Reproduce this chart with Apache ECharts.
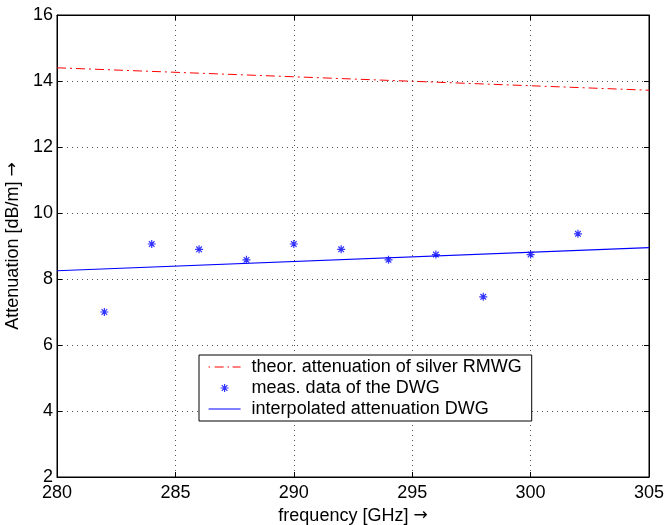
<!DOCTYPE html>
<html>
<head>
<meta charset="utf-8">
<script src="https://cdn.jsdelivr.net/npm/echarts@6/dist/echarts.min.js"></script>
<style>html,body{margin:0;padding:0;background:#fff}#c{width:664px;height:525px}</style>
</head>
<body>
<div id="c"></div>
<script>
const xTicks = [280, 285, 290, 295, 300, 305];
const yTicks = [2, 4, 6, 8, 10, 12, 14, 16];
const theoryFreq = [280, 305];
const theoryVals = [14.40, 13.72];
const measFreq = [282, 284, 286, 288, 290, 292, 294, 296, 298, 300, 302];
const measVals = [7.0, 9.06, 8.9, 8.58, 9.06, 8.9, 8.58, 8.74, 7.46, 8.74, 9.37];
const interpFreq = [280, 305];
const interpVals = [8.25, 8.95];
const legendNames = ['theor. attenuation of silver RMWG', 'meas. data of the DWG', 'interpolated attenuation DWG'];

const zip = (a, b) => a.map((v, i) => [v, b[i]]);
const font = 'Liberation Sans, Arial, Helvetica, sans-serif';
const star = 'path://M0 10 L20 10 M10 0 L10 20 M3 3 L17 17 M17 3 L3 17';
// legend icons (bbox 32x14 kept by corner points)
const box = 'M0 0 L0 0 M32 14 L32 14 ';
const iconDashDot = 'path://' + box + 'M0 6.5 H1.5 V7.5 H0 Z M6 6.5 H15 V7.5 H6 Z M19 6.5 H20.5 V7.5 H19 Z M24 6.5 H32 V7.5 H24 Z';
const iconStar = 'path://' + box + 'M12 7 L20 7 M16 3 L16 11 M13.2 4.2 L18.8 9.8 M18.8 4.2 L13.2 9.8';
const iconSolid = 'path://' + box + 'M0 6.4 H32 V7.6 H0 Z';

const chart = echarts.init(document.getElementById('c'), null, {renderer: 'canvas'});
const gridLine = {show: true, lineStyle: {color: '#555', type: [1, 4], width: 1}};
const tickStyle = {show: true, inside: true, length: 5, lineStyle: {color: '#000'}};
const arrowRich = {a: {fontFamily: 'DejaVu Sans', fontSize: 17, color: '#000'}};
chart.setOption({
  animation: false,
  grid: {left: 57, right: 15, top: 15, bottom: 48, show: true, borderColor: '#000', borderWidth: 1,
         outerBoundsMode: 'none'},
  xAxis: [{
    type: 'value', min: 280, max: 305, interval: 5, position: 'bottom',
    name: 'frequency [GHz] {a|→}', nameLocation: 'middle', nameGap: 21,
    nameTextStyle: {color: '#000', fontSize: 18, fontFamily: font, rich: arrowRich},
    axisLine: {show: true, lineStyle: {color: '#000', width: 1}},
    axisTick: tickStyle,
    axisLabel: {color: '#000', fontSize: 18, fontFamily: font, margin: 7},
    splitLine: gridLine
  }, {
    type: 'value', min: 280, max: 305, interval: 5, position: 'top',
    axisLine: {show: true, lineStyle: {color: '#000'}},
    axisTick: tickStyle, axisLabel: {show: false}, splitLine: {show: false}
  }],
  yAxis: [{
    type: 'value', min: 2, max: 16, interval: 2, position: 'left',
    name: 'Attenuation [dB/m] {a|→}', nameLocation: 'middle', nameGap: 35, nameRotate: 90,
    nameTextStyle: {color: '#000', fontSize: 18, fontFamily: font, rich: arrowRich},
    axisLine: {show: true, lineStyle: {color: '#000', width: 1}},
    axisTick: tickStyle,
    axisLabel: {color: '#000', fontSize: 18, fontFamily: font, margin: 4},
    splitLine: gridLine
  }, {
    type: 'value', min: 2, max: 16, interval: 2, position: 'right',
    axisLine: {show: true, lineStyle: {color: '#000'}},
    axisTick: tickStyle, axisLabel: {show: false}, splitLine: {show: false}
  }],
  legend: {
    orient: 'vertical', left: 199, top: 355, width: 338,
    padding: [3, 10, 3, 9], itemGap: 3, itemWidth: 32, itemHeight: 14,
    backgroundColor: '#fff', borderColor: '#000', borderWidth: 1, borderRadius: 0,
    textStyle: {color: '#000', fontSize: 18, fontFamily: font, padding: [0, 0, 0, 6]},
    data: [
      {name: legendNames[0], icon: iconDashDot, itemStyle: {color: '#ff0000', borderWidth: 0}},
      {name: legendNames[1], icon: iconStar, itemStyle: {color: '#0000ff', borderColor: '#0000ff', borderWidth: 1.2}},
      {name: legendNames[2], icon: iconSolid, itemStyle: {color: '#0000ff', borderWidth: 0}}
    ]
  },
  series: [{
    name: legendNames[0], type: 'line', data: zip(theoryFreq, theoryVals),
    symbol: 'none', color: '#ff0000',
    lineStyle: {color: '#ff0000', width: 1, type: [9, 4, 2, 4]}
  }, {
    name: legendNames[1], type: 'scatter', data: zip(measFreq, measVals),
    symbol: star, symbolSize: 8, color: '#0000ff',
    itemStyle: {color: '#0000ff', borderColor: '#0000ff', borderWidth: 1.2}
  }, {
    name: legendNames[2], type: 'line', data: zip(interpFreq, interpVals),
    symbol: 'none', color: '#0000ff',
    lineStyle: {color: '#0000ff', width: 1.2}
  }]
});
</script>
</body>
</html>
